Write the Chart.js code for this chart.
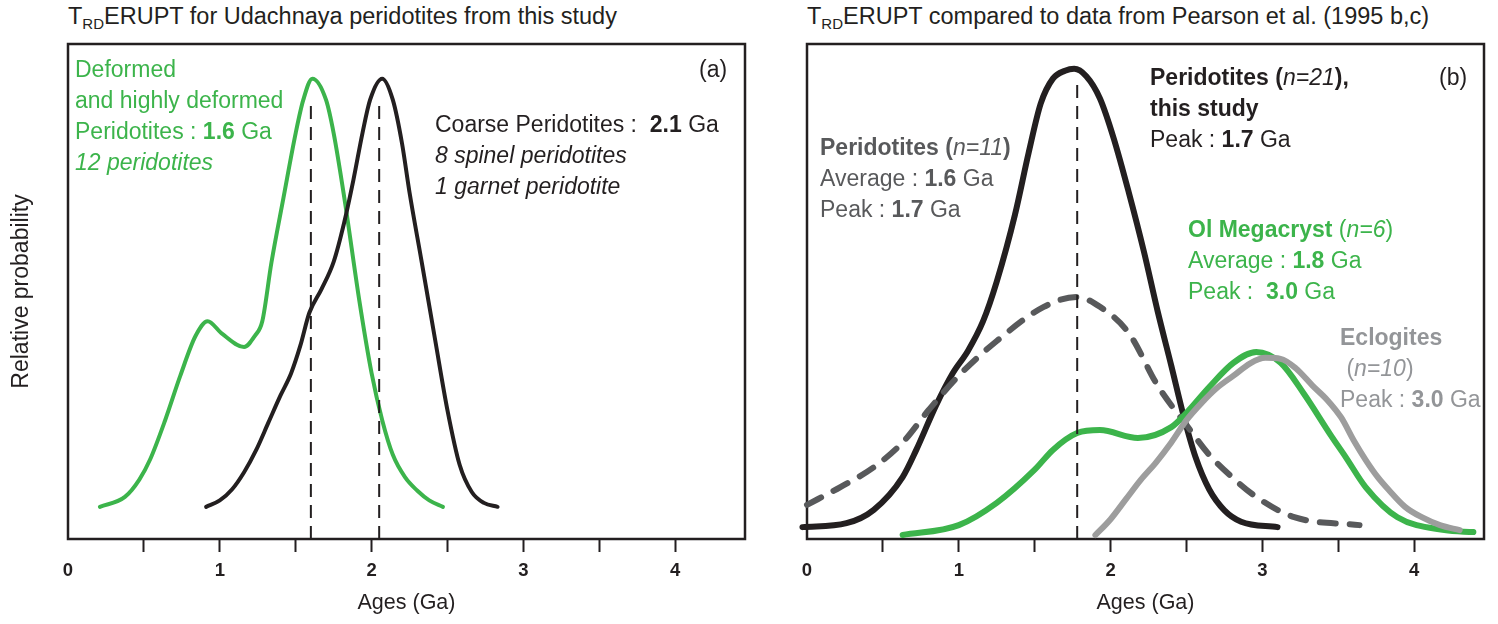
<!DOCTYPE html>
<html>
<head>
<meta charset="utf-8">
<script src="https://cdn.jsdelivr.net/npm/chart.js@4.4.1/dist/chart.umd.min.js"></script>
<style>
  body { margin: 0; width: 1498px; height: 624px; background: #fff; position: relative; overflow: hidden;
         font-family: "Liberation Sans", Arial, sans-serif; color: #231f20; }
  canvas { position: absolute; top: 0; }
  #chartA { left: 0; }
  #chartB { left: 760px; }
  .txt { position: absolute; font-size: 23px; line-height: 31px; white-space: nowrap; }
  .title { position: absolute; top: 3px; font-size: 23.5px; white-space: nowrap; }
  .title sub { font-size: 15px; vertical-align: -5px; }
  .green { color: #3cb44b; }
  .dark { color: #58595b; }
  .light { color: #939598; }
  b { font-weight: bold; }
</style>
</head>
<body>
<div class="title" style="left:68px;">T<sub>RD</sub>ERUPT for Udachnaya peridotites from this study</div>
<div class="title" style="left:807px;">T<sub>RD</sub>ERUPT compared to data from Pearson et al. (1995 b,c)</div>

<canvas id="chartA" width="760" height="624"></canvas>
<canvas id="chartB" width="738" height="624"></canvas>

<!-- panel (a) annotations -->
<div class="txt green" style="left:75px; top:54px;">Deformed<br>and highly deformed<br>Peridotites : <b>1.6</b> Ga<br><i>12 peridotites</i></div>
<div class="txt" style="left:699px; top:54px;">(a)</div>
<div class="txt" style="left:435px; top:109px;">Coarse Peridotites :&nbsp; <b>2.1</b> Ga<br><i>8 spinel peridotites</i><br><i>1 garnet peridotite</i></div>

<!-- panel (b) annotations -->
<div class="txt" style="left:1150px; top:62px;"><b>Peridotites</b> <b>(</b><i>n=21</i><b>),</b><br><b>this study</b><br>Peak : <b>1.7</b> Ga</div>
<div class="txt" style="left:1439px; top:62px;">(b)</div>
<div class="txt dark" style="left:820px; top:132px;"><b>Peridotites</b> <b>(</b><i>n=11</i><b>)</b><br>Average : <b>1.6</b> Ga<br>Peak : <b>1.7</b> Ga</div>
<div class="txt green" style="left:1188px; top:214px;"><b>Ol Megacryst</b> (<i>n=6</i>)<br>Average : <b>1.8</b> Ga<br>Peak :&nbsp; <b>3.0</b> Ga</div>
<div class="txt light" style="left:1340px; top:322px;"><b>Eclogites</b><br>&nbsp;(<i>n=10</i>)<br>Peak : <b>3.0</b> Ga</div>

<script>
// ---- panel (a): this study ----
const agesDeformed = [0.21, 0.375, 0.47, 0.54, 0.64, 0.74, 0.84, 0.92, 1.01, 1.16, 1.23, 1.28, 1.34, 1.42, 1.50, 1.55, 1.61, 1.70, 1.75, 1.82, 1.92, 2.00, 2.07, 2.14, 2.22, 2.30, 2.38, 2.47];
const probDeformed = [6.5, 8.5, 12, 16, 24, 33, 41, 44, 41.6, 38.8, 41, 44, 55.8, 69, 82, 88.7, 93, 88.7, 82, 69, 48, 33.5, 24, 17, 12.5, 9.8, 7.8, 6.5];
const agesCoarse = [0.91, 1.00, 1.08, 1.16, 1.24, 1.32, 1.40, 1.47, 1.53, 1.59, 1.67, 1.75, 1.82, 1.88, 1.94, 1.99, 2.07, 2.14, 2.20, 2.25, 2.33, 2.42, 2.50, 2.58, 2.66, 2.74, 2.83];
const probCoarse = [6.5, 7.8, 10, 13.5, 18, 23.5, 29, 33.5, 39, 45.7, 50.5, 56, 64, 72.5, 82, 88.7, 93, 88.7, 80, 70, 56, 40, 26, 15, 9.5, 7.3, 6.5];
const peaksA = [1.6, 2.05];
const peakTopA = 89;

// ---- panel (b): compared to Pearson et al. ----
const agesStudy = [-0.03, 0.26, 0.44, 0.63, 0.72, 0.85, 0.96, 1.06, 1.16, 1.25, 1.37, 1.46, 1.54, 1.62, 1.70, 1.76, 1.84, 1.93, 2.02, 2.12, 2.22, 2.31, 2.40, 2.48, 2.56, 2.65, 2.75, 2.86, 3.10];
const probStudy = [2.4, 3.2, 5.9, 12.5, 18, 27, 33.5, 38, 44, 52, 65.5, 78, 88, 93, 94.6, 95, 93.5, 89, 81, 70, 58, 46, 35, 25, 16.5, 10, 5.8, 3.5, 2.4];
const agesPearson = [0.0, 0.22, 0.44, 0.63, 0.80, 1.00, 1.25, 1.56, 1.78, 1.93, 2.12, 2.31, 2.50, 2.65, 2.80, 2.96, 3.21, 3.64];
const probPearson = [6.9, 10.5, 14.5, 19.5, 26, 33, 40, 46.9, 48.9, 46.9, 41.6, 31, 23, 17, 12.5, 8.5, 4.4, 2.8];
const agesMegacryst = [0.63, 1.00, 1.25, 1.50, 1.62, 1.78, 1.93, 2.18, 2.40, 2.50, 2.65, 2.81, 2.96, 3.12, 3.27, 3.45, 3.55, 3.68, 3.89, 4.20, 4.39];
const probMegacryst = [0.8, 2.8, 7.3, 14, 18, 21.4, 22, 20.4, 22.6, 25.5, 30.7, 35.6, 37.8, 35.6, 29.5, 21, 16.5, 10.5, 4.4, 1.8, 1.4];
const agesEclogite = [1.90, 2.00, 2.10, 2.20, 2.30, 2.40, 2.50, 2.60, 2.70, 2.81, 2.92, 3.02, 3.12, 3.22, 3.33, 3.43, 3.52, 3.60, 3.68, 3.76, 3.83, 3.94, 4.05, 4.17, 4.30];
const probEclogite = [0.8, 4, 8, 12, 15.5, 19.5, 24, 27.5, 30.5, 33, 35.5, 36.6, 36.4, 34.5, 31, 28, 24.5, 20, 16, 12.5, 10, 6.5, 4.4, 2.8, 1.8];
const peaksB = [1.78];
const peakTopB = 92;

// ---- axis ----
const tickValues = [0, 0.5, 1, 1.5, 2, 2.5, 3, 3.5, 4];
const tickLabels = ['0', '', '1', '', '2', '', '3', '', '4'];
const ageMax = 4.46;

const GREEN = '#3cb44b';
const BLACK = '#231f20';
const DARK = '#58595b';
const LIGHT = '#9d9d9d';
const FONT = '"Liberation Sans", Arial, sans-serif';

function pts(xs, ys) {
  return xs.map((x, i) => ({ x: x, y: ys[i] }));
}

function curve(xs, ys, color, width, dash) {
  return {
    data: pts(xs, ys),
    borderColor: color,
    borderWidth: width,
    borderDash: dash || [],
    borderCapStyle: 'round',
    borderJoinStyle: 'round',
    cubicInterpolationMode: 'monotone',
    pointRadius: 0,
    clip: false
  };
}

function peakLine(age, top) {
  return {
    data: [{ x: age, y: 0 }, { x: age, y: top }],
    borderColor: BLACK,
    borderWidth: 2,
    borderDash: [13, 8],
    pointRadius: 0
  };
}

// box around the plot area
const framePlugin = {
  id: 'frame',
  beforeDatasetsDraw(chart) {
    const { ctx, chartArea: a } = chart;
    ctx.save();
    ctx.strokeStyle = BLACK;
    ctx.lineWidth = 2.5;
    ctx.strokeRect(a.left, a.top, a.width, a.height);
    ctx.restore();
  }
};

function makeChart(id, datasets, leftWidth, rightPad, showYTitle) {
  return new Chart(document.getElementById(id), {
    type: 'line',
    data: { datasets: datasets },
    plugins: [framePlugin],
    options: {
      responsive: false,
      animation: false,
      devicePixelRatio: 1,
      layout: { padding: { top: 44, right: rightPad, bottom: 0, left: 0 } },
      plugins: { legend: { display: false }, tooltip: { enabled: false } },
      scales: {
        x: {
          type: 'linear',
          min: 0,
          max: ageMax,
          afterBuildTicks: s => { s.ticks = tickValues.map(v => ({ value: v })); },
          afterFit: s => { s.height = 85; },
          border: { display: false },
          grid: {
            drawOnChartArea: false,
            drawTicks: true,
            tickLength: 13,
            tickWidth: 2,
            tickColor: ctx => (ctx.tick && ctx.tick.value === 0) ? 'rgba(0,0,0,0)' : BLACK
          },
          ticks: {
            autoSkip: false,
            maxRotation: 0,
            padding: 8,
            color: BLACK,
            font: { family: FONT, size: 18.5, weight: 'bold' },
            callback: (v, i) => tickLabels[i]
          },
          title: {
            display: true,
            text: 'Ages (Ga)',
            color: BLACK,
            font: { family: FONT, size: 21.5 },
            padding: { top: 0, bottom: 8 }
          }
        },
        y: {
          type: 'linear',
          min: 0,
          max: 100,
          afterFit: s => { s.width = leftWidth; },
          border: { display: false },
          grid: { display: false },
          ticks: { display: false },
          title: {
            display: showYTitle,
            text: 'Relative probability',
            color: BLACK,
            font: { family: FONT, size: 23 },
            padding: { top: 8, bottom: 0 }
          }
        }
      }
    }
  });
}

makeChart('chartA', [
  peakLine(peaksA[0], peakTopA),
  peakLine(peaksA[1], peakTopA),
  curve(agesCoarse, probCoarse, BLACK, 4),
  curve(agesDeformed, probDeformed, GREEN, 4)
], 68, 15, true);

makeChart('chartB', [
  peakLine(peaksB[0], peakTopB),
  curve(agesEclogite, probEclogite, LIGHT, 6),
  curve(agesMegacryst, probMegacryst, GREEN, 6),
  curve(agesPearson, probPearson, DARK, 6, [16, 14]),
  curve(agesStudy, probStudy, BLACK, 6)
], 47, 14, false);
</script>
</body>
</html>
